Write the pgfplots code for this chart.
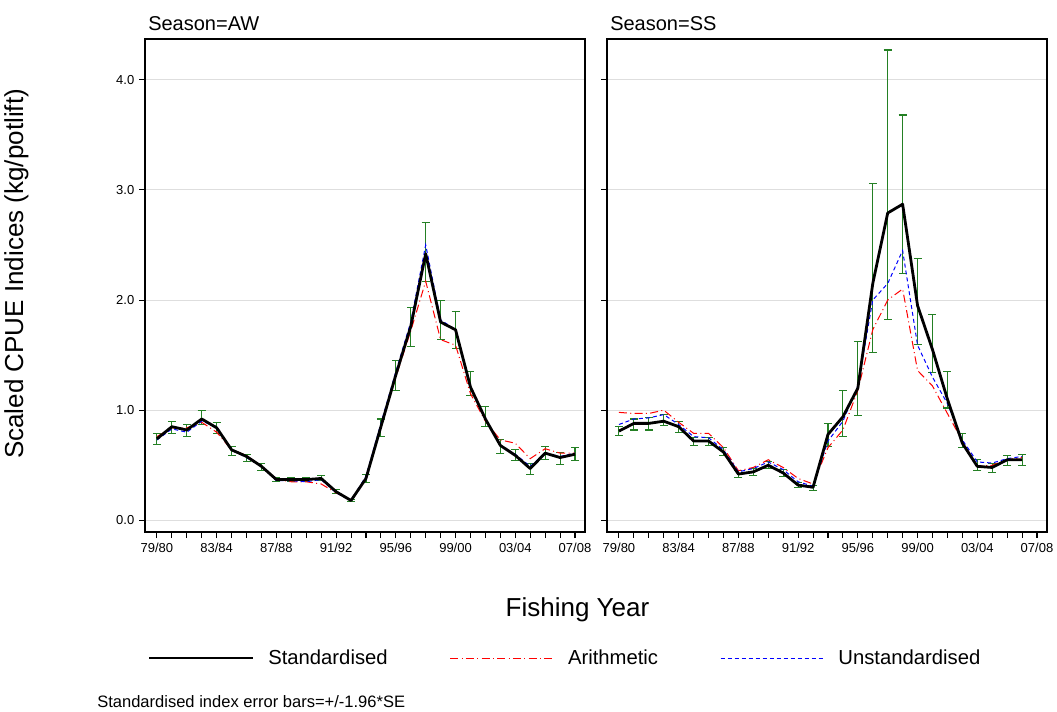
\documentclass[border=0pt]{standalone}
\usepackage{fontspec}
\setmainfont{Liberation Sans}
\usepackage{pgfplots}
\pgfplotsset{compat=1.18}
\usepackage{pgfplotstable}

\definecolor{errgreen}{RGB}{36,128,36}
\definecolor{gridgray}{RGB}{222,222,222}

\pgfplotstableread{
x y lo hi ar un
0 0.74 0.69 0.79 0.76 0.73
1 0.85 0.79 0.90 0.84 0.83
2 0.82 0.76 0.87 0.84 0.80
3 0.92 0.87 1.00 0.89 0.90
4 0.84 0.79 0.89 0.80 0.85
5 0.64 0.59 0.67 0.64 0.64
6 0.58 0.53 0.60 0.59 0.57
7 0.49 0.45 0.52 0.49 0.49
8 0.37 0.35 0.39 0.37 0.36
9 0.37 0.35 0.39 0.35 0.36
10 0.37 0.35 0.39 0.35 0.35
11 0.38 0.36 0.41 0.33 0.37
12 0.26 0.24 0.28 0.25 0.25
13 0.18 0.17 0.19 0.18 0.18
14 0.38 0.34 0.42 0.38 0.40
15 0.85 0.76 0.92 0.85 0.88
16 1.32 1.18 1.45 1.30 1.35
17 1.76 1.58 1.93 1.72 1.80
18 2.42 2.17 2.70 2.17 2.50
19 1.80 1.64 2.00 1.64 1.82
20 1.73 1.56 1.90 1.59 1.73
21 1.21 1.13 1.35 1.15 1.21
22 0.92 0.85 1.03 0.90 0.92
23 0.68 0.61 0.73 0.73 0.68
24 0.59 0.54 0.64 0.70 0.60
25 0.47 0.42 0.52 0.56 0.49
26 0.61 0.55 0.67 0.65 0.61
27 0.57 0.51 0.62 0.61 0.58
28 0.60 0.54 0.66 0.61 0.61
}\aw

\pgfplotstableread{
x y lo hi ar un
0 0.81 0.77 0.85 0.98 0.87
1 0.88 0.82 0.92 0.97 0.92
2 0.88 0.82 0.93 0.97 0.93
3 0.90 0.86 0.96 1.00 0.96
4 0.85 0.80 0.90 0.89 0.87
5 0.72 0.68 0.75 0.79 0.76
6 0.72 0.68 0.75 0.79 0.75
7 0.62 0.59 0.66 0.66 0.64
8 0.42 0.39 0.45 0.45 0.44
9 0.44 0.41 0.47 0.48 0.47
10 0.50 0.47 0.53 0.55 0.53
11 0.43 0.40 0.46 0.48 0.46
12 0.32 0.30 0.34 0.38 0.35
13 0.30 0.27 0.32 0.33 0.31
14 0.78 0.67 0.88 0.66 0.72
15 0.94 0.76 1.18 0.82 0.90
16 1.20 0.95 1.62 1.18 1.22
17 2.15 1.52 3.06 1.73 2.00
18 2.79 1.82 4.27 2.00 2.15
19 2.87 2.24 3.68 2.10 2.45
20 1.95 1.60 2.38 1.36 1.59
21 1.55 1.34 1.87 1.22 1.30
22 1.10 1.02 1.35 0.97 1.06
23 0.70 0.66 0.79 0.72 0.73
24 0.49 0.45 0.55 0.49 0.53
25 0.48 0.43 0.52 0.50 0.52
26 0.55 0.50 0.59 0.55 0.56
27 0.55 0.50 0.60 0.57 0.58
}\ss

\pgfplotsset{
  panel/.style={
    scale only axis, width=330pt, height=369.75pt,
    xmin=-0.8, xmax=28.67, ymin=-0.106, ymax=4.37,
    xtick={0,4,...,28}, minor xtick={0,...,28},
    xticklabels={79/80,83/84,87/88,91/92,95/96,99/00,03/04,07/08},
    ytick={0,1,2,3,4},
    tick align=outside, tick pos=left,
    major tick length=4.5pt, minor tick length=4.5pt,
    tick style={black, line width=0.8pt},
    axis line style={line width=1.1pt},
    ymajorgrids, major grid style={gridgray, line width=0.7pt},
    /pgf/number format/assume math mode=true,
    tick label style={font=\fontsize{9.75}{11}\selectfont},
    yticklabel style={/pgf/number format/.cd, fixed, fixed zerofill, precision=1},
    after end axis/.code={\draw[line width=2pt] (rel axis cs:0,0) -- (rel axis cs:1,0);},
  },
  errs/.style={forget plot, color=errgreen, draw=none, mark=none,
    error bars/.cd, y dir=both, y explicit,
    error bar style={color=errgreen, draw=errgreen, line width=0.8pt, solid},
    error mark options={rotate=90, mark size=3pt, line width=0.8pt, color=errgreen, draw=errgreen, solid}},
  stdline/.style={forget plot, black, line width=2.1pt, line join=round},
  arline/.style={forget plot, red, line width=0.75pt, dash pattern=on 6pt off 2.5pt on 0.75pt off 2.5pt},
  unline/.style={forget plot, blue, line width=0.75pt, dash pattern=on 3pt off 2.25pt},
}

\begin{document}
\begin{tikzpicture}
\useasboundingbox (0,0) rectangle (792.75pt,533.25pt);

\begin{axis}[panel, at={(108.75pt,134.25pt)}, anchor=south west,
  legend columns=3,
  legend image code/.code={\draw[#1] (0pt,0pt) -- (78pt,0pt);},
  legend style={at={(axis description cs:0.0068,-0.2556)}, anchor=west,
    draw=none, fill=none, inner sep=0pt, outer sep=0pt,
    font=\fontsize{15.2}{17}\selectfont,
    legend cell align=left,
    /tikz/every odd column/.append style={column sep=8pt},
    /tikz/every even column/.append style={column sep=44.5pt}},
]
\addlegendimage{black, line width=2.2pt}
\addlegendentry{Standardised}
\addlegendimage{red, line width=0.75pt, dash pattern=on 6pt off 2.5pt on 0.75pt off 2.5pt}
\addlegendentry{Arithmetic}
\addlegendimage{blue, line width=0.75pt, dash pattern=on 3pt off 2.25pt}
\addlegendentry{Unstandardised}
\addplot[errs] table[x=x, y=y, y error plus expr=\thisrow{hi}-\thisrow{y}, y error minus expr=\thisrow{y}-\thisrow{lo}] {\aw};
\addplot[arline] table[x=x, y=ar] {\aw};
\addplot[unline] table[x=x, y=un] {\aw};
\addplot[stdline] table[x=x, y=y] {\aw};
\end{axis}

\begin{axis}[panel, at={(455.25pt,134.25pt)}, anchor=south west, yticklabels={}]
\addplot[errs] table[x=x, y=y, y error plus expr=\thisrow{hi}-\thisrow{y}, y error minus expr=\thisrow{y}-\thisrow{lo}] {\ss};
\addplot[arline] table[x=x, y=ar] {\ss};
\addplot[unline] table[x=x, y=un] {\ss};
\addplot[stdline] table[x=x, y=y] {\ss};
\end{axis}

\node[anchor=base west, font=\fontsize{15}{17}\selectfont, inner sep=0pt] at (111pt,510pt) {Season=AW};
\node[anchor=base west, font=\fontsize{15}{17}\selectfont, inner sep=0pt] at (457.5pt,510pt) {Season=SS};
\node[anchor=base, rotate=90, font=\fontsize{19.5}{22}\selectfont, inner sep=0pt] at (17.25pt,327.75pt) {Scaled CPUE Indices (kg/potlift)};
\node[anchor=base, font=\fontsize{19.5}{22}\selectfont, inner sep=0pt] at (433.1pt,70.7pt) {Fishing Year};
\node[anchor=base west, font=\fontsize{12.4}{14}\selectfont, inner sep=0pt] at (72.75pt,2.4pt) {Standardised index error bars=+/-1.96*SE};
\end{tikzpicture}
\end{document}
